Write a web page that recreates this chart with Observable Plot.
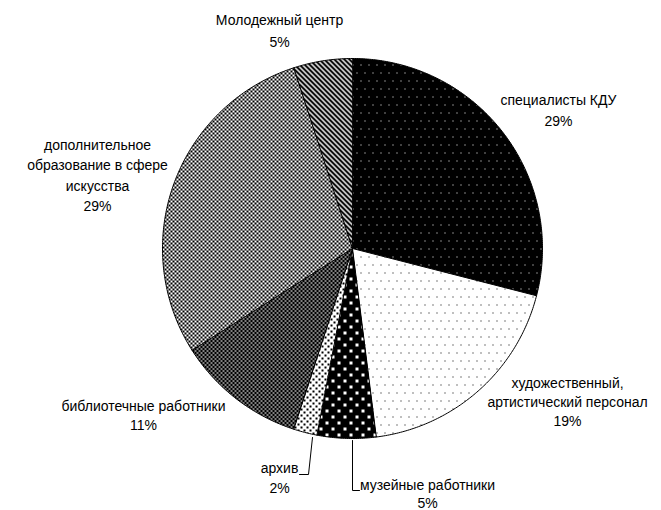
<!DOCTYPE html>
<html><head><meta charset="utf-8">
<script src="https://cdn.jsdelivr.net/npm/d3@7"></script>
<script src="https://cdn.jsdelivr.net/npm/@observablehq/plot@0.6"></script>
<style>body{margin:0;background:#fff}</style>
</head><body><div id="chart"></div>
<script>
// ---- data ----
const categories = ["специалисты КДУ", "художественный, артистический персонал", "музейные работники", "архив", "библиотечные работники", "дополнительное образование в сфере искусства", "Молодежный центр"];
const shares = [29, 19, 5, 2, 11, 29, 5];
const percentLabels = ["29%", "19%", "5%", "2%", "11%", "29%", "5%"];
const labelLines = [["специалисты КДУ"], ["художественный,", "артистический персонал"], ["музейные работники"], ["архив"], ["библиотечные работники"], ["дополнительное", "образование в сфере", "искусства"], ["Молодежный центр"]];

// ---- layout ----
const W = 661, H = 510, CX = 352, CY = 248, R = 190;
const labelPos = [[558, 100], [567, 383], [427, 485], [279, 468], [143, 406], [97, 145], [279, 20]]; // center x, first line y
const lineGap = [21, 19, 18, 20, 19, 20.5, 22];
const leaders = [null, null, [[352, 440], [352, 490], [359, 490]], [[312, 437], [308, 474], [299, 474]], null, null, null];

const arcs = d3.pie().sort(null).value(d => d)(shares);
const slicePts = arcs.map((a, i) => {
  const pts = [{x: CX, y: CY}];
  const n = Math.max(4, Math.ceil((a.endAngle - a.startAngle) / 0.01));
  for (let k = 0; k <= n; k++) {
    const t = a.startAngle + (a.endAngle - a.startAngle) * k / n;
    pts.push({x: CX + R * Math.sin(t), y: CY - R * Math.cos(t)});
  }
  return pts;
});

const textRows = [];
labelLines.forEach((lines, i) => {
  const all = [...lines, percentLabels[i]];
  all.forEach((t, k) => textRows.push({x: labelPos[i][0], y: labelPos[i][1] + k * lineGap[i], text: t}));
});

const marks = [];
slicePts.forEach((pts, i) => {
  marks.push(Plot.line(pts, {x: "x", y: "y", curve: "linear-closed", fill: `url(#pat${i})`, stroke: "black", strokeWidth: 1}));
});
leaders.forEach(l => { if (l) marks.push(Plot.line(l.map(p => ({x: p[0], y: p[1]})), {x: "x", y: "y", stroke: "black", strokeWidth: 1})); });
marks.push(Plot.text(textRows, {x: "x", y: "y", text: "text", fill: "black", fontSize: 14, textAnchor: "middle"}));

const svg = Plot.plot({
  width: W, height: H, margin: 0,
  x: {domain: [0, W], range: [0, W], axis: null},
  y: {domain: [0, H], range: [0, H], axis: null},
  style: {fontFamily: "'Liberation Sans', Arial, sans-serif", fontSize: "14px", background: "white"},
  marks
});

const NS = "http://www.w3.org/2000/svg";
const defs = document.createElementNS(NS, "defs");
function pattern(id, w, h, bg, shapes) {
  const p = document.createElementNS(NS, "pattern");
  p.setAttribute("id", id); p.setAttribute("patternUnits", "userSpaceOnUse");
  p.setAttribute("width", w); p.setAttribute("height", h);
  p.setAttribute("shape-rendering", "crispEdges");
  const b = document.createElementNS(NS, "rect");
  b.setAttribute("width", w); b.setAttribute("height", h); b.setAttribute("fill", bg);
  p.appendChild(b);
  shapes.forEach(s => {
    const el = document.createElementNS(NS, s.tag || "rect");
    Object.entries(s).forEach(([k, v]) => { if (k !== "tag") el.setAttribute(k, v); });
    p.appendChild(el);
  });
  defs.appendChild(p);
}
const sq = (x, y, s, f) => ({x, y, width: s, height: s, fill: f});
pattern("pat0", 8, 16, "black", [sq(0, 0, 1, "white"), sq(4, 8, 1, "white")]);
pattern("pat1", 8, 16, "white", [sq(0, 0, 1, "black"), sq(4, 8, 1, "black")]);
pattern("pat2", 12, 12, "black", [sq(1, 1, 3, "white"), sq(7, 7, 3, "white")]);
pattern("pat3", 6, 6, "white", [sq(0, 0, 2, "black"), sq(3, 3, 2, "black")]);
pattern("pat4", 4, 4, "black", [{x: 0, y: 0, width: 2, height: 1, fill: "white"}, {x: 2, y: 2, width: 2, height: 1, fill: "white"}]);
pattern("pat5", 4, 4, "white", [sq(0, 0, 2, "black"), sq(2, 2, 2, "black")]);
pattern("pat6", 5, 5, "white", [{tag: "path", d: "M-1,-1L6,6M-1,4L1,6M4,-1L6,1", stroke: "black", "stroke-width": 1.5, fill: "none"}]);
svg.insertBefore(defs, svg.firstChild);
document.getElementById("chart").appendChild(svg);
</script>
</body></html>
